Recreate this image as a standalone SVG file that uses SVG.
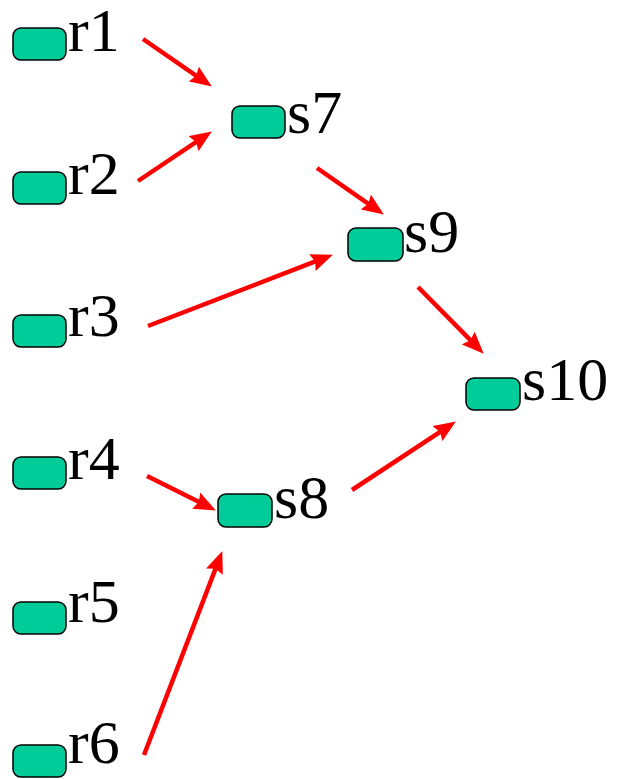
<svg xmlns="http://www.w3.org/2000/svg" width="617" height="779" viewBox="0 0 617 779">
  <style>
    .box { fill: #00CC99; stroke: #000; stroke-width: 1.5; }
    .lbl { font-family: "Liberation Serif", "Times New Roman", serif; font-size: 62px; fill: #000; }
    .edge { stroke: #FF0000; stroke-width: 4.5; fill: none; marker-end: url(#arrow); }
  </style>
  <defs>
    <marker id="arrow" markerUnits="userSpaceOnUse" markerWidth="22" markerHeight="18" refX="15" refY="9" orient="auto">
      <path d="M0,0 L22,9 L0,18 L3,9 z" fill="#FF0000"/>
    </marker>
  </defs>
  <rect width="617" height="779" fill="#fff"/>

  <g id="edges">
    <line class="edge" x1="143" y1="39" x2="206.1" y2="82.6"/>
    <line class="edge" x1="138" y1="181" x2="206.0" y2="135.3"/>
    <line class="edge" x1="317" y1="168" x2="378.1" y2="210.6"/>
    <line class="edge" x1="148" y1="326" x2="326.4" y2="257.2"/>
    <line class="edge" x1="418" y1="287" x2="478.8" y2="348.7"/>
    <line class="edge" x1="147" y1="476" x2="209.6" y2="507.3"/>
    <line class="edge" x1="144" y1="755" x2="219.8" y2="557.6"/>
    <line class="edge" x1="352" y1="490" x2="450" y2="425.3"/>
  </g>

  <g id="r1"><rect class="box" x="13" y="28" width="53" height="32" rx="8"/><text class="lbl" x="68" y="51">r1</text></g>
  <g id="r2"><rect class="box" x="13" y="172" width="53" height="32" rx="8"/><text class="lbl" x="68" y="194">r2</text></g>
  <g id="r3"><rect class="box" x="13" y="315" width="53" height="32" rx="8"/><text class="lbl" x="68" y="336">r3</text></g>
  <g id="r4"><rect class="box" x="13" y="457" width="53" height="32" rx="8"/><text class="lbl" x="68" y="479">r4</text></g>
  <g id="r5"><rect class="box" x="13" y="602" width="53" height="32" rx="8"/><text class="lbl" x="68" y="622">r5</text></g>
  <g id="r6"><rect class="box" x="13" y="745" width="53" height="32" rx="8"/><text class="lbl" x="68" y="763">r6</text></g>
  <g id="s7"><rect class="box" x="232" y="106" width="53" height="32" rx="8"/><text class="lbl" x="287" y="133">s7</text></g>
  <g id="s8"><rect class="box" x="218" y="494" width="54" height="33" rx="8"/><text class="lbl" x="274" y="518">s8</text></g>
  <g id="s9"><rect class="box" x="348" y="228" width="55" height="33" rx="8"/><text class="lbl" x="404" y="252">s9</text></g>
  <g id="s10"><rect class="box" x="466" y="378" width="54" height="32" rx="8"/><text class="lbl" x="522" y="400">s10</text></g>
</svg>
